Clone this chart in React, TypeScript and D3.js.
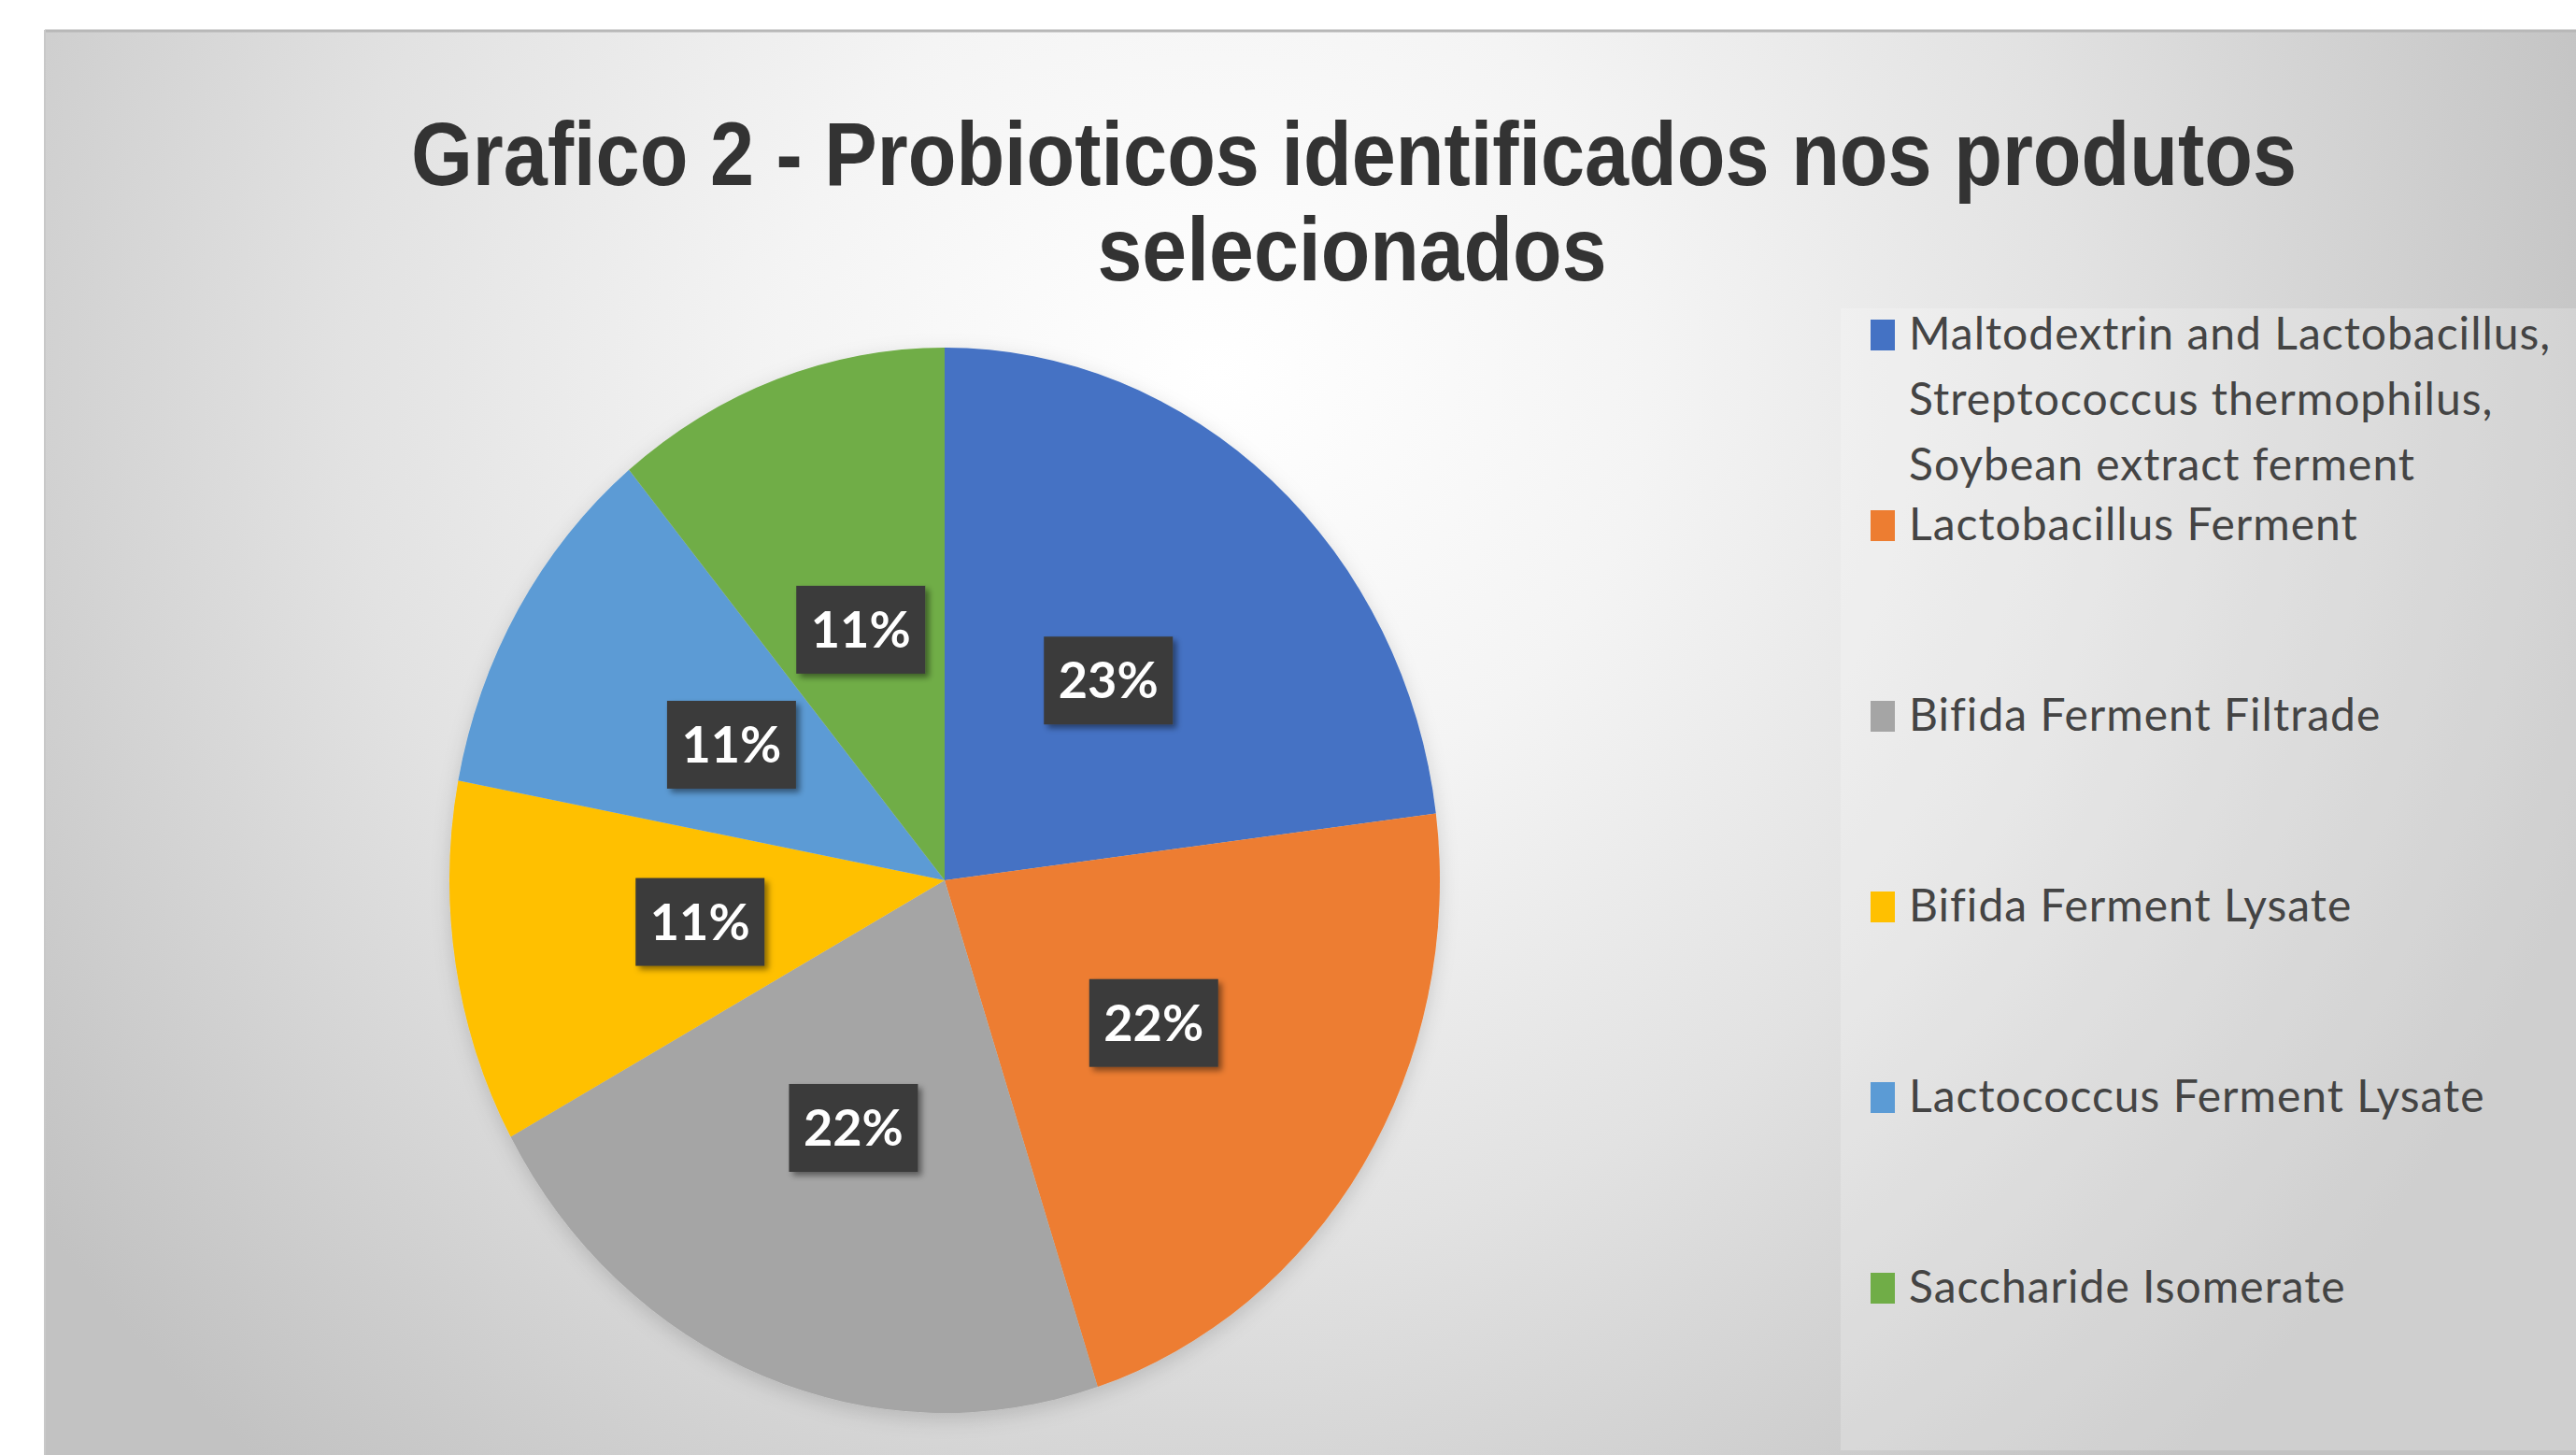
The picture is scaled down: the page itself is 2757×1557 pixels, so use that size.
import React from "react";
import * as d3 from "d3";

const titleLines = ["Grafico 2 - Probioticos identificados nos produtos", "selecionados"];
const categories = [
  "Maltodextrin and Lactobacillus, Streptococcus thermophilus, Soybean extract ferment",
  "Lactobacillus Ferment",
  "Bifida Ferment Filtrade",
  "Bifida Ferment Lysate",
  "Lactococcus Ferment Lysate",
  "Saccharide Isomerate",
];
const legendLines = [
  ["Maltodextrin and Lactobacillus,", "Streptococcus thermophilus,", "Soybean extract ferment"],
  ["Lactobacillus Ferment"],
  ["Bifida Ferment Filtrade"],
  ["Bifida Ferment Lysate"],
  ["Lactococcus Ferment Lysate"],
  ["Saccharide Isomerate"],
];
const values = [23, 22, 22, 11, 11, 11];
const colors = ["#4472C4", "#ED7D31", "#A5A5A5", "#FFC000", "#5B9BD5", "#70AD47"];

const W = 2757;
const H = 1557;

export default function App() {
  const cx = 1011;
  const cy = 942;
  const rx = 530;
  const ry = 570;
  const sy = ry / rx;

  const pie = d3.pie<number>().sort(null).value((d) => d);
  const arcs = pie(values);
  const arc = d3.arc<d3.PieArcDatum<number>>().innerRadius(0).outerRadius(rx);

  const total = d3.sum(values);
  const fmt = (v: number) => `${Math.round((v / total) * 100)}%`;

  const legendX = 2002;
  const legendTop = 374;
  const itemStep = 204;
  const lineStep = 70;

  return (
    <svg
      width={W}
      height={H}
      style={{ position: "absolute", left: 0, top: 0, display: "block" }}
    >
      <defs>
        <radialGradient id="bg" gradientUnits="userSpaceOnUse" cx={1300} cy={400} r={1550}>
          <stop offset="0" stopColor="#ffffff" />
          <stop offset="0.3" stopColor="#f4f4f4" />
          <stop offset="0.6" stopColor="#e2e2e2" />
          <stop offset="1" stopColor="#c2c2c2" />
        </radialGradient>
        <filter id="lblShadow" x="-20%" y="-20%" width="150%" height="150%">
          <feDropShadow dx="4" dy="4" stdDeviation="3" floodColor="#000" floodOpacity="0.45" />
        </filter>
        <filter id="pieGlow" x="-10%" y="-10%" width="120%" height="120%">
          <feDropShadow dx="0" dy="6" stdDeviation="10" floodColor="#000" floodOpacity="0.15" />
        </filter>
      </defs>
      <rect x={0} y={0} width={W} height={H} fill="#ffffff" />
      <rect x={48} y={32} width={W - 48} height={H - 32} fill="url(#bg)" />
      <line x1={48} x2={W} y1={33} y2={33} stroke="#b8b8b8" strokeWidth={3} />
      <line x1={48} x2={48} y1={32} y2={H} stroke="#c8c8c8" strokeWidth={2} />

      {/* legend area */}
      <rect x={1970} y={330} width={W - 1970} height={1222} fill="#ffffff" fillOpacity={0.22} />

      {/* title */}
      <g fill="#333333" fontFamily="'Liberation Sans', Arial, sans-serif" fontWeight="bold" fontSize={96}>
        <text x={1449} y={198} textAnchor="middle" textLength={2018} lengthAdjust="spacingAndGlyphs">
          {titleLines[0]}
        </text>
        <text x={1447} y={300} textAnchor="middle" textLength={545} lengthAdjust="spacingAndGlyphs">
          {titleLines[1]}
        </text>
      </g>

      {/* pie */}
      <g transform={`translate(${cx},${cy}) scale(1,${sy})`} filter="url(#pieGlow)">
        {arcs.map((a, i) => (
          <path key={categories[i]} d={arc(a) || ""} fill={colors[i]} />
        ))}
      </g>

      {/* data labels */}
      {arcs.map((a, i) => {
        const [px, py] = arc.centroid(a);
        const x = cx + px;
        const y = cy + py * sy;
        const bw = 138;
        const bh = 94;
        return (
          <g key={`lbl-${i}`}>
            <rect
              x={x - bw / 2}
              y={y - bh / 2}
              width={bw}
              height={bh}
              fill="#3b3b3b"
              filter="url(#lblShadow)"
            />
            <text
              x={x}
              y={y + 19}
              textAnchor="middle"
              fill="#ffffff"
              fontFamily="Lato, 'Open Sans', sans-serif"
              fontWeight="bold"
              fontSize={54}
            >
              {fmt(values[i])}
            </text>
          </g>
        );
      })}

      {/* legend */}
      {legendLines.map((lines, i) => {
        const base = legendTop + i * itemStep;
        return (
          <g key={`leg-${i}`}>
            <rect x={legendX} y={base - 32} width={26} height={33} fill={colors[i]} />
            {lines.map((ln, j) => (
              <text
                key={j}
                x={legendX + 41}
                y={base + j * lineStep}
                fill="#444444"
                fontFamily="Lato, 'Open Sans', sans-serif"
                fontSize={48}
                letterSpacing={1}
              >
                {ln}
              </text>
            ))}
          </g>
        );
      })}
    </svg>
  );
}
